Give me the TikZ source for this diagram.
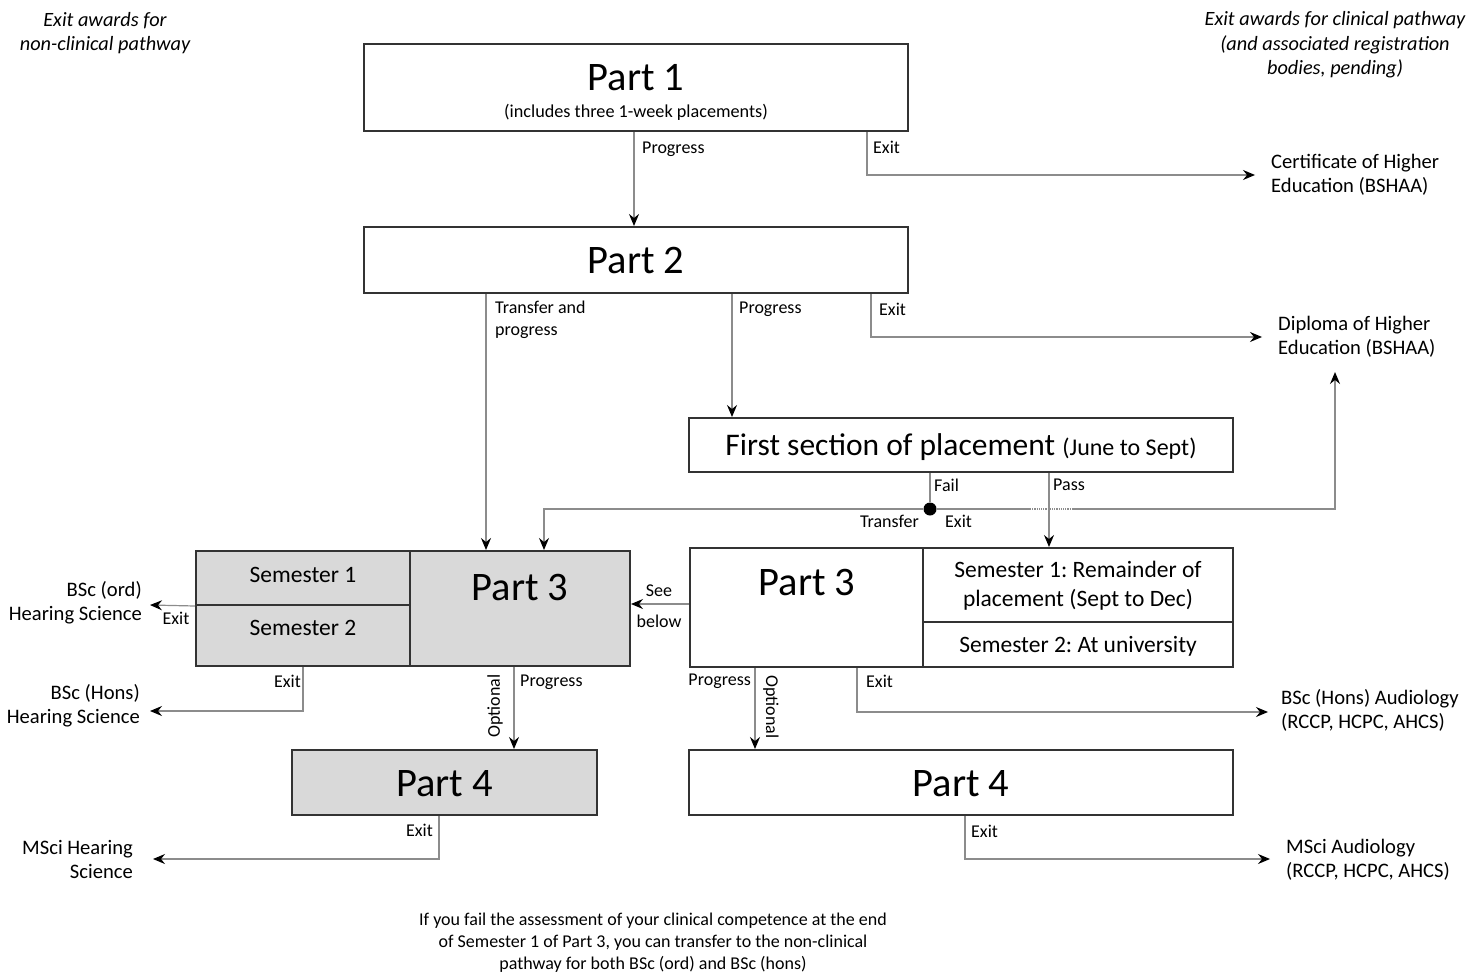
\documentclass[tikz,border=0pt]{standalone}
\usepackage{fontspec}
\setmainfont{Carlito}
\usetikzlibrary{arrows.meta}
\frenchspacing

\begin{document}
\begin{tikzpicture}[x=1pt, y=-1pt,
	box/.style={draw=black!80, line width=2pt, inner sep=0pt},
	gbox/.style={box, fill=black!15},
	link/.style={draw=black!45, line width=1.2pt},
	arr/.style={link, -{Stealth[length=12pt, width=10pt, inset=4pt, color=black]}},
	big/.style={font=\fontsize{40.5}{42}\selectfont},
	sem/.style={font=\fontsize{23.5}{29}\selectfont, align=center},
	lbl/.style={font=\fontsize{18}{22}\selectfont, inner sep=1pt},
	award/.style={font=\fontsize{20.6}{24}\selectfont, inner sep=0pt},
	head/.style={font=\itshape\fontsize{20.3}{24.5}\selectfont, align=center}]
			\useasboundingbox (0,0) rectangle (1469,974);
			
			\node[head] (hl) at (105,33) {Exit awards for\\non-clinical pathway};
			\node[head] (hr) at (1335,45) {Exit awards for clinical pathway\\(and associated registration\\bodies, pending)};
			
			\node[box, minimum width=544pt, minimum height=87pt] (p1) at (636,87.5) {};
			\node[big] (t1) at (636,78) {Part 1};
			\node[font=\fontsize{18.2}{20}\selectfont] (t1s) at (636,112) {(includes three 1-week placements)};
			\node[box, minimum width=544pt, minimum height=66pt] (p2) at (636,260) {};
			\node[big] (t2) at (636,261) {Part 2};
			\node[box, minimum width=544pt, minimum height=54pt] (fs) at (961,445) {};
			\node[font=\fontsize{31.5}{33}\selectfont] (tfs) at (961,447) {First section of placement {\fontsize{24}{26}\selectfont(June to Sept)}};
			
			\node[gbox, minimum width=214pt, minimum height=54pt] (lsem1) at (303,578) {};
			\node[gbox, minimum width=214pt, minimum height=61pt] (lsem2) at (303,635.5) {};
			\node[gbox, minimum width=220pt, minimum height=115pt] (lp3) at (520,608.5) {};
			\node[sem] (ts1) at (303,575) {Semester 1};
			\node[sem] (ts2) at (303,628) {Semester 2};
			\node[big] (tl3) at (520,587) {Part 3};
			
			\node[box, minimum width=233pt, minimum height=119pt] (rp3) at (806.5,607.5) {};
			\node[box, minimum width=310pt, minimum height=74pt] (rsem1) at (1078,585) {};
			\node[box, minimum width=310pt, minimum height=45pt] (rsem2) at (1078,644.5) {};
			\node[big] (tr3) at (807,583) {Part 3};
			\node[sem] (trs1) at (1078,586) {Semester 1: Remainder of\\placement (Sept to Dec)};
			\node[sem] (trs2) at (1078,646) {Semester 2: At university};
			
			\node[gbox, minimum width=305pt, minimum height=65pt] (lp4) at (444.5,782.5) {};
			\node[big] (tl4) at (444.5,784) {Part 4};
			\node[box, minimum width=544pt, minimum height=65pt] (rp4) at (961,782.5) {};
			\node[big] (tr4) at (961,784) {Part 4};
			
			\node[award, anchor=west, align=left] (cert) at (1271,175) {Certificate of Higher\\Education (BSHAA)};
			\node[award, anchor=west, align=left] (dip) at (1278,337) {Diploma of Higher\\Education (BSHAA)};
			\node[award, anchor=east, align=right] (bsco) at (142,603) {BSc (ord)\\Hearing Science};
			\node[award, anchor=east, align=right] (bsch) at (140,706) {BSc (Hons)\\Hearing Science};
			\node[award, anchor=east, align=right] (msch) at (133,859) {MSci Hearing\\Science};
			\node[award, anchor=west, align=left] (bsa) at (1281,710) {BSc (Hons) Audiology\\(RCCP, HCPC, AHCS)};
			\node[award, anchor=west, align=left] (msa) at (1286,860) {MSci Audiology\\(RCCP, HCPC, AHCS)};
			
			\coordinate (dipin) at (1335,372);
			\coordinate (hopa) at (1030,509);
			\coordinate (hopb) at (1072,509);
			\node[circle, fill=black, inner sep=0pt, minimum size=13pt] (dot) at (930,509) {};
			
			\draw[arr] ([xshift=-2pt]p1.south) -- ([xshift=-2pt]p2.north);
			\draw[arr] ([xshift=231pt]p1.south) |- ([xshift=-16pt]cert.west);
			\draw[arr] ([xshift=-150pt]p2.south) -- ([xshift=-34pt]lp3.north);
			\draw[arr] ([xshift=96pt]p2.south) -- ([xshift=-229pt]fs.north);
			\draw[arr] ([xshift=235pt]p2.south) |- ([xshift=-16pt]dip.west);
			
			\draw[arr] (dot) -| ([xshift=24pt]lp3.north);
			\draw[arr] (dot) -| (dipin);
			\draw[white, line width=2pt] (hopa) -- (hopb);
			\draw[link, densely dotted] (hopa) -- (hopb);
			\draw[link] ([xshift=-31pt]fs.south) -- (dot);
			\draw[arr] ([xshift=88pt]fs.south) -- ([xshift=-29pt]rsem1.north);
			
			\draw[arr] ([yshift=3.5pt]rp3.west) -- ([yshift=4.5pt]lp3.east);
			\draw[arr] (lsem1.south west) -- ([xshift=8pt, yshift=-2pt]bsco.east);
			\draw[arr] (lsem2.south) |- ([xshift=10pt, yshift=-5pt]bsch.east);
			\draw[arr] ([xshift=-6pt]lp3.south) -- ([xshift=69.5pt]lp4.north);
			\draw[arr] ([xshift=-51.5pt]rp3.south) -- ([xshift=-206pt]rp4.north);
			\draw[arr] ([xshift=50.5pt]rp3.south) |- ([xshift=-13pt, yshift=-2pt]bsa.west);
			\draw[arr] ([xshift=-5.5pt]lp4.south) |- ([xshift=20pt]msch.east);
			\draw[arr] ([xshift=4pt]rp4.south) |- ([xshift=-16pt, yshift=1pt]msa.west);
			
			\node[lbl, anchor=west] (l1) at (641,149) {Progress};
			\node[lbl, anchor=west] (l2) at (872,147) {Exit};
			\node[lbl, anchor=west, align=left] (l3) at (494,320) {Transfer and\\progress};
			\node[lbl, anchor=west] (l4) at (738,309) {Progress};
			\node[lbl, anchor=west] (l5) at (878,309) {Exit};
			\node[lbl, anchor=west] (l6) at (933,485) {Fail};
			\node[lbl, anchor=west] (l7) at (1052,485) {Pass};
			\node[lbl, anchor=east] (l8) at (920,521) {Transfer};
			\node[lbl, anchor=west] (l9) at (944,521) {Exit};
			\node[lbl] (l10) at (659,591) {See};
			\node[lbl] (l11) at (659,621) {below};
			\node[lbl] (l12) at (176,618) {Exit};
			\node[lbl, anchor=east] (l13) at (302,681) {Exit};
			\node[lbl, rotate=90] (l14) at (495,706) {Optional};
			\node[lbl, anchor=west] (l15) at (519,682) {Progress};
			\node[lbl, anchor=east] (l16) at (752,681) {Progress};
			\node[lbl, rotate=-90] (l17) at (771,707) {Optional};
			\node[lbl, anchor=west] (l18) at (865,681) {Exit};
			\node[lbl, anchor=east] (l19) at (434,830) {Exit};
			\node[lbl, anchor=west] (l20) at (970,831) {Exit};
			
			\node[lbl, align=center] (note) at (653,943) {If you fail the assessment of your clinical competence at the end\\of Semester 1 of Part 3, you can transfer to the non-clinical\\pathway for both BSc (ord) and BSc (hons)};
			
		\end{tikzpicture}
\end{document}
